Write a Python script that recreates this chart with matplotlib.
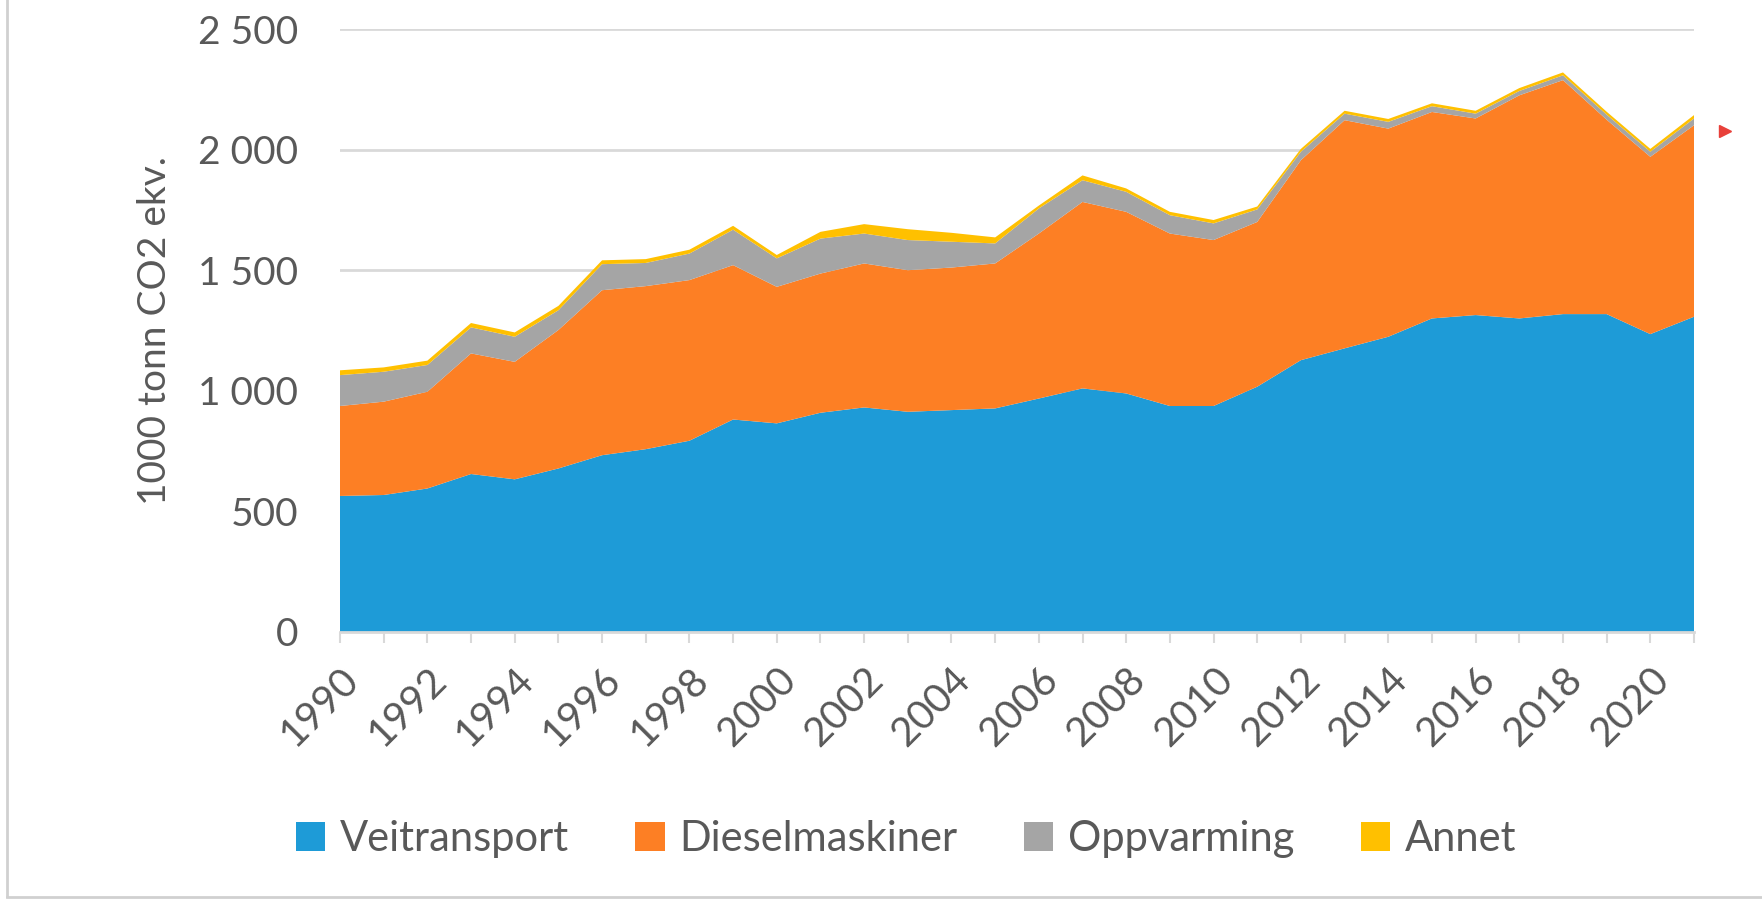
import matplotlib
matplotlib.use("Agg")
import matplotlib.pyplot as plt
from matplotlib.lines import Line2D
from matplotlib.ticker import FuncFormatter, MultipleLocator

plt.rcParams['font.family'] = ['Lato', 'DejaVu Sans']

# data (1000 tonn CO2 ekv.)
years = list(range(1990, 2022))
veitransport = [564, 568, 595, 655, 633, 678, 733, 758, 793, 881,
                865, 909, 931, 913, 920, 927, 968, 1010, 989, 937,
                937, 1017, 1127, 1176, 1224, 1300, 1314, 1300, 1318, 1318,
                1235, 1307]
dieselmaskiner = [373, 387, 401, 500, 487, 574, 684, 676, 666, 640,
                  566, 577, 597, 587, 591, 601, 684, 773, 753, 715,
                  688, 683, 829, 946, 863, 856, 815, 925, 970, 806,
                  735, 794]
oppvarming = [128, 124, 111, 108, 104, 82, 108, 96, 110, 147,
              118, 145, 124, 125, 107, 83, 104, 90, 83, 76,
              69, 52, 35, 27, 28, 24, 20, 18, 20, 21,
              21, 28]
annet = [20, 18, 18, 18, 18, 18, 16, 16, 16, 16,
         14, 28, 39, 45, 37, 25, 12, 20, 14, 14,
         14, 12, 12, 12, 12, 12, 12, 12, 12, 12,
         12, 14]
labels = ['Veitransport', 'Dieselmaskiner', 'Oppvarming', 'Annet']
colors = ['#1e9bd7', '#fd7f24', '#a5a5a5', '#ffc000']

text_col = '#595959'
grid_col = '#d9d9d9'

fig = plt.figure(figsize=(17.62, 9.01), dpi=100)
ax = fig.add_axes([340 / 1762, 1 - 632 / 901, (1694 - 340) / 1762, (632 - 29) / 901])

ax.stackplot(years, veitransport, dieselmaskiner, oppvarming, annet,
             colors=colors, labels=labels, linewidth=0)

ax.set_xlim(1990, 2021)
ax.set_ylim(0, 2500)
ax.yaxis.set_major_locator(MultipleLocator(500))
ax.yaxis.set_major_formatter(FuncFormatter(lambda v, p: f'{int(v):,}'.replace(',', ' ')))
ax.grid(axis='y', color=grid_col, linewidth=2)
ax.set_axisbelow(True)

# a tick every year, label every second year
ax.set_xticks(years)
ax.set_xticklabels([str(y) if y % 2 == 0 else '' for y in years],
                   rotation=45, ha='right', va='top', rotation_mode='anchor')
ax.tick_params(axis='x', length=8, width=1.5, color=grid_col, labelsize=29,
               labelcolor=text_col, pad=13)
ax.tick_params(axis='y', length=0, labelsize=28, labelcolor=text_col, pad=30)

for s in ['top', 'right', 'left']:
    ax.spines[s].set_visible(False)
ax.spines['bottom'].set_color(grid_col)
ax.spines['bottom'].set_linewidth(2)

ax.set_ylabel('1000 tonn CO2 ekv.', fontsize=28, color=text_col, labelpad=18)

fig.legend(loc='center', bbox_to_anchor=(906 / 1762, 1 - 839 / 901), ncol=4,
           frameon=False, fontsize=30, labelcolor=text_col,
           handlelength=0.7, handleheight=0.7, handletextpad=0.35,
           columnspacing=1.6)

# slide frame and small marker at right
fig.add_artist(Line2D([7 / 1762, 7 / 1762], [0.005, 1.0], color='#d0d0d0', lw=2))
fig.add_artist(Line2D([7 / 1762, 1.0], [1 - 897 / 901, 1 - 897 / 901], color='#d0d0d0', lw=2))
fig.add_artist(Line2D([1725 / 1762], [1 - 131 / 901], marker='>', markersize=9,
                      color='#e8403a', linestyle='none'))

fig.savefig('out.png', dpi=100)
